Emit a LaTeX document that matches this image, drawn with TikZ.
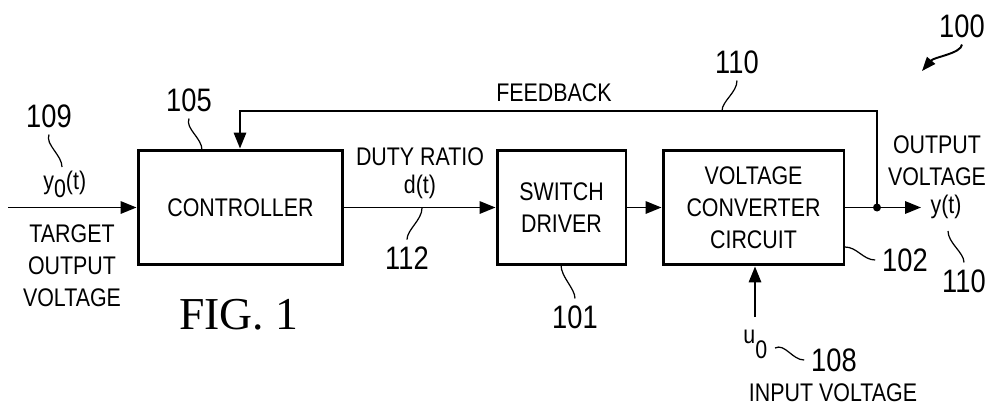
\documentclass[tikz,border=0pt]{standalone}
\usepackage{fontspec}
\setmainfont{Liberation Sans}[FakeStretch=0.84]
\newfontfamily\figfont{Liberation Serif}
\usetikzlibrary{arrows.meta}

\begin{document}
\begin{tikzpicture}[x=0.02cm, y=-0.02cm,
    block/.style={draw, line width=1.7pt, minimum height=2.3cm, align=center,
                  font=\fontsize{14.5}{18.2}\selectfont},
    conn/.style={line width=1.1pt, -{Triangle[length=9pt,width=7pt]}},
    lead/.style={line width=0.7pt},
    lbl/.style={inner sep=0pt, align=center, font=\fontsize{14.5}{18.2}\selectfont},
    num/.style={inner sep=0pt, outer sep=4pt, font=\fontsize{18.5}{20}\selectfont}]
  \useasboundingbox (0,0) rectangle (997,409);

  % blocks
  \node[block, minimum width=4.1cm] (ctrl) at (240.5,207.5) {CONTROLLER};
  \node[block, minimum width=2.58cm] (drv) at (561.5,207.5) {SWITCH\\DRIVER};
  \node[block, minimum width=3.62cm] (conv) at (753.5,207.5) {VOLTAGE\\CONVERTER\\CIRCUIT};

  % free ends
  \coordinate (in) at (8,207.5);
  \coordinate (tap) at (877,207.5);
  \coordinate (out) at (921,207.5);
  \coordinate (fb) at (240,111);
  \coordinate (uin) at (755,317);

  % signal path
  \draw[conn] (in) -- (ctrl.west);
  \draw[conn] (ctrl.east) -- (drv.west);
  \draw[conn] (drv.east) -- (conv.west);
  \draw[conn] (conv.east) -- (out);
  \draw[conn] (tap) |- (fb) -- (fb |- ctrl.north);
  \draw[conn] (uin) -- (uin |- conv.south);
  \fill (tap) circle (4);

  % texts
  \node[lbl, anchor=base west] (y0) at (43,189) {y\raisebox{-5pt}{0}(t)};
  \node[lbl] (target) at (72,265.5) {TARGET\\OUTPUT\\VOLTAGE};
  \node[lbl] (fbk) at (554,93) {FEEDBACK};
  \node[lbl] (duty) at (420,157) {DUTY RATIO};
  \node[lbl] (dt) at (420,187) {d(t)};
  \node[lbl] (outv) at (937,161) {OUTPUT\\VOLTAGE};
  \node[lbl] (yt) at (946,207) {y(t)};
  \node[lbl, anchor=base west] (u0) at (743,343) {u\raisebox{-9pt}{0}};
  \node[lbl] (inv) at (833,393) {INPUT VOLTAGE};
  \node[inner sep=0pt, font=\figfont\fontsize{26}{30}\selectfont] (fig) at (239,315) {FIG. 1};

  % reference numbers
  \node[num] (n100) at (962,26) {100};
  \node[num] (n109) at (49,116) {109};
  \node[num] (n105) at (189,100) {105};
  \node[num] (n110a) at (737,62) {110};
  \node[num] (n112) at (407,258) {112};
  \node[num] (n101) at (575,317) {101};
  \node[num] (n102) at (905,260) {102};
  \node[num] (n110b) at (964,281) {110};
  \node[num] (n108) at (834,360) {108};

  % leaders
  \coordinate (t100) at (922,71);
  \coordinate (e109) at (62,167);
  \coordinate (e105) at (202,150);
  \coordinate (e110a) at (722,111);
  \coordinate (s112) at (422,208);
  \coordinate (s101) at (561,265);
  \coordinate (s102) at (845,247);
  \coordinate (s110b) at (948,231);
  \coordinate (s108) at (775,348);
  \draw[line width=1.1pt, -{Triangle[length=8pt,width=6pt]}] (n100.south) .. controls +(-1,9) and +(12,-14) .. (t100);
  \draw[lead] (n109.south) .. controls +(-4,10) and +(0,-12) .. (e109);
  \draw[lead] (n105.south) .. controls +(-4,10) and +(0,-12) .. (e105);
  \draw[lead] (n110a.south) .. controls +(0,12) and +(0,-10) .. (e110a);
  \draw[lead] (s112) .. controls +(0,12) and +(0,-10) .. (n112.north);
  \draw[lead] (s101) .. controls +(0,12) and +(0,-10) .. (n101.north);
  \draw[lead] (s102) .. controls +(12,0) and +(-12,0) .. (n102.west);
  \draw[lead] (s110b) .. controls +(0,12) and +(0,-10) .. (n110b.north);
  \draw[lead] (s108) .. controls +(10,-5) and +(-12,0) .. (n108.west);
\end{tikzpicture}
\end{document}
